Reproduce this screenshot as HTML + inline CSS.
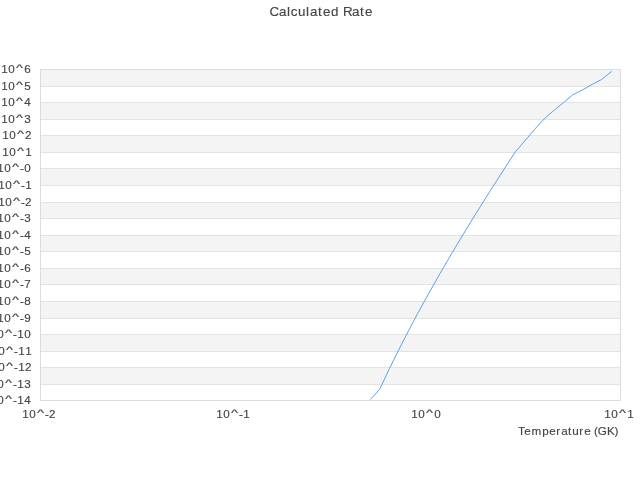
<!DOCTYPE html>
<html><head><meta charset="utf-8"><title>Calculated Rate</title>
<style>
html,body{margin:0;padding:0;background:#fff;}
body{width:640px;height:480px;overflow:hidden;font-family:"Liberation Sans",sans-serif;}
svg{display:block;}
text{font-family:"Liberation Sans",sans-serif;white-space:pre;}
</style></head><body>
<svg width="640" height="480" viewBox="0 0 640 480">
<rect x="0" y="0" width="640" height="480" fill="#ffffff"/>
<rect x="40" y="69" width="580" height="17" fill="#f4f4f4"/>
<rect x="40" y="102" width="580" height="17" fill="#f4f4f4"/>
<rect x="40" y="135" width="580" height="17" fill="#f4f4f4"/>
<rect x="40" y="168" width="580" height="17" fill="#f4f4f4"/>
<rect x="40" y="202" width="580" height="16" fill="#f4f4f4"/>
<rect x="40" y="235" width="580" height="16" fill="#f4f4f4"/>
<rect x="40" y="268" width="580" height="16" fill="#f4f4f4"/>
<rect x="40" y="301" width="580" height="17" fill="#f4f4f4"/>
<rect x="40" y="334" width="580" height="17" fill="#f4f4f4"/>
<rect x="40" y="367" width="580" height="17" fill="#f4f4f4"/>
<rect x="40" y="69" width="581" height="1" fill="#dcdcdc"/>
<rect x="40" y="86" width="581" height="1" fill="#e3e3e3"/>
<rect x="40" y="102" width="581" height="1" fill="#e3e3e3"/>
<rect x="40" y="119" width="581" height="1" fill="#e3e3e3"/>
<rect x="40" y="135" width="581" height="1" fill="#e3e3e3"/>
<rect x="40" y="152" width="581" height="1" fill="#e3e3e3"/>
<rect x="40" y="168" width="581" height="1" fill="#e3e3e3"/>
<rect x="40" y="185" width="581" height="1" fill="#e3e3e3"/>
<rect x="40" y="202" width="581" height="1" fill="#e3e3e3"/>
<rect x="40" y="218" width="581" height="1" fill="#e3e3e3"/>
<rect x="40" y="235" width="581" height="1" fill="#e3e3e3"/>
<rect x="40" y="251" width="581" height="1" fill="#e3e3e3"/>
<rect x="40" y="268" width="581" height="1" fill="#e3e3e3"/>
<rect x="40" y="284" width="581" height="1" fill="#e3e3e3"/>
<rect x="40" y="301" width="581" height="1" fill="#e3e3e3"/>
<rect x="40" y="318" width="581" height="1" fill="#e3e3e3"/>
<rect x="40" y="334" width="581" height="1" fill="#e3e3e3"/>
<rect x="40" y="351" width="581" height="1" fill="#e3e3e3"/>
<rect x="40" y="367" width="581" height="1" fill="#e3e3e3"/>
<rect x="40" y="384" width="581" height="1" fill="#e3e3e3"/>
<rect x="40" y="400" width="581" height="1" fill="#dcdcdc"/>
<rect x="40" y="69" width="1" height="332" fill="#dcdcdc"/>
<rect x="620" y="69" width="1" height="332" fill="#dcdcdc"/>
<polyline fill="none" stroke="#57a3f1" stroke-width="1" points="370.3,399.6 379.8,389.1 389.43,368.59 399.1,349.05 408.77,330.27 418.43,312.13 428.1,294.54 437.77,277.44 447.43,260.76 457.1,244.45 466.77,228.46 476.43,212.77 486.1,197.34 495.77,182.14 505.43,167.16 514.9,152.5 524.8,140.8 534.4,129.6 544.1,119 553.8,110.5 563.4,102.7 572.9,94.7 582.8,89.8 592.4,84.25 601.4,79.6 611.7,71.4"/>
<g style="will-change:transform" stroke="#444" stroke-width="0.15" stroke-linejoin="round">
<text x="269.4 278.98 287.09 290.84 298.01 306.09 309.98 317.92 323.07 331.09 338.77 342.95 351.98 359.92 365.07" y="16" font-size="13.4" fill="#444">Calculated Rate</text>
<text x="1.2 8.26 16.09 24.26" y="73" font-size="11.66" fill="#444">10<tspan font-size="8.53" dy="-2" textLength="7.03" lengthAdjust="spacingAndGlyphs">^</tspan><tspan dy="2">6</tspan></text>
<text x="1.2 8.26 16.09 24.21" y="90" font-size="11.66" fill="#444">10<tspan font-size="8.53" dy="-2" textLength="7.03" lengthAdjust="spacingAndGlyphs">^</tspan><tspan dy="2">5</tspan></text>
<text x="1.2 8.26 16.09 24.25" y="106" font-size="11.66" fill="#444">10<tspan font-size="8.53" dy="-2" textLength="7.03" lengthAdjust="spacingAndGlyphs">^</tspan><tspan dy="2">4</tspan></text>
<text x="1.2 8.26 16.09 24.27" y="123" font-size="11.66" fill="#444">10<tspan font-size="8.53" dy="-2" textLength="7.03" lengthAdjust="spacingAndGlyphs">^</tspan><tspan dy="2">3</tspan></text>
<text x="2.2 9.26 17.09 25.11" y="139" font-size="11.66" fill="#444">10<tspan font-size="8.53" dy="-2" textLength="7.03" lengthAdjust="spacingAndGlyphs">^</tspan><tspan dy="2">2</tspan></text>
<text x="2.2 9.26 17.09 25.2" y="156" font-size="11.66" fill="#444">10<tspan font-size="8.53" dy="-2" textLength="7.03" lengthAdjust="spacingAndGlyphs">^</tspan><tspan dy="2">1</tspan></text>
<text x="-2.8 4.26 12.09 20.04 24.26" y="172" font-size="11.66" fill="#444">10<tspan font-size="8.53" dy="-2" textLength="7.03" lengthAdjust="spacingAndGlyphs">^</tspan><tspan dy="2">-0</tspan></text>
<text x="-1.8 5.26 13.09 21.04 25.2" y="189" font-size="11.66" fill="#444">10<tspan font-size="8.53" dy="-2" textLength="7.03" lengthAdjust="spacingAndGlyphs">^</tspan><tspan dy="2">-1</tspan></text>
<text x="-1.8 5.26 13.09 21.04 25.11" y="206" font-size="11.66" fill="#444">10<tspan font-size="8.53" dy="-2" textLength="7.03" lengthAdjust="spacingAndGlyphs">^</tspan><tspan dy="2">-2</tspan></text>
<text x="-2.8 4.26 12.09 20.04 24.27" y="222" font-size="11.66" fill="#444">10<tspan font-size="8.53" dy="-2" textLength="7.03" lengthAdjust="spacingAndGlyphs">^</tspan><tspan dy="2">-3</tspan></text>
<text x="-2.8 4.26 12.09 20.04 24.25" y="239" font-size="11.66" fill="#444">10<tspan font-size="8.53" dy="-2" textLength="7.03" lengthAdjust="spacingAndGlyphs">^</tspan><tspan dy="2">-4</tspan></text>
<text x="-2.8 4.26 12.09 20.04 24.21" y="255" font-size="11.66" fill="#444">10<tspan font-size="8.53" dy="-2" textLength="7.03" lengthAdjust="spacingAndGlyphs">^</tspan><tspan dy="2">-5</tspan></text>
<text x="-2.8 4.26 12.09 20.04 24.26" y="272" font-size="11.66" fill="#444">10<tspan font-size="8.53" dy="-2" textLength="7.03" lengthAdjust="spacingAndGlyphs">^</tspan><tspan dy="2">-6</tspan></text>
<text x="-2.8 4.26 12.09 20.04 24.23" y="288" font-size="11.66" fill="#444">10<tspan font-size="8.53" dy="-2" textLength="7.03" lengthAdjust="spacingAndGlyphs">^</tspan><tspan dy="2">-7</tspan></text>
<text x="-2.8 4.26 12.09 20.04 24.26" y="305" font-size="11.66" fill="#444">10<tspan font-size="8.53" dy="-2" textLength="7.03" lengthAdjust="spacingAndGlyphs">^</tspan><tspan dy="2">-8</tspan></text>
<text x="-2.8 4.26 12.09 20.04 24.22" y="322" font-size="11.66" fill="#444">10<tspan font-size="8.53" dy="-2" textLength="7.03" lengthAdjust="spacingAndGlyphs">^</tspan><tspan dy="2">-9</tspan></text>
<text x="-9.8 -2.74 5.09 13.04 17.2 24.26" y="338" font-size="11.66" fill="#444">10<tspan font-size="8.53" dy="-2" textLength="7.03" lengthAdjust="spacingAndGlyphs">^</tspan><tspan dy="2">-10</tspan></text>
<text x="-8.8 -1.74 6.09 14.04 18.2 25.2" y="355" font-size="11.66" fill="#444">10<tspan font-size="8.53" dy="-2" textLength="7.03" lengthAdjust="spacingAndGlyphs">^</tspan><tspan dy="2">-11</tspan></text>
<text x="-8.8 -1.74 6.09 14.04 18.2 25.11" y="371" font-size="11.66" fill="#444">10<tspan font-size="8.53" dy="-2" textLength="7.03" lengthAdjust="spacingAndGlyphs">^</tspan><tspan dy="2">-12</tspan></text>
<text x="-9.8 -2.74 5.09 13.04 17.2 24.27" y="388" font-size="11.66" fill="#444">10<tspan font-size="8.53" dy="-2" textLength="7.03" lengthAdjust="spacingAndGlyphs">^</tspan><tspan dy="2">-13</tspan></text>
<text x="-9.8 -2.74 5.09 13.04 17.2 24.25" y="404" font-size="11.66" fill="#444">10<tspan font-size="8.53" dy="-2" textLength="7.03" lengthAdjust="spacingAndGlyphs">^</tspan><tspan dy="2">-14</tspan></text>
<text x="22.2 29.26 37.09 45.04 49.11" y="418" font-size="11.66" fill="#444">10<tspan font-size="8.53" dy="-2" textLength="7.03" lengthAdjust="spacingAndGlyphs">^</tspan><tspan dy="2">-2</tspan></text>
<text x="216.2 223.26 231.09 239.04 243.2" y="418" font-size="11.66" fill="#444">10<tspan font-size="8.53" dy="-2" textLength="7.03" lengthAdjust="spacingAndGlyphs">^</tspan><tspan dy="2">-1</tspan></text>
<text x="411.2 418.26 426.09 434.26" y="418" font-size="11.66" fill="#444">10<tspan font-size="8.53" dy="-2" textLength="7.03" lengthAdjust="spacingAndGlyphs">^</tspan><tspan dy="2">0</tspan></text>
<text x="604.2 611.26 619.09 627.2" y="418" font-size="11.66" fill="#444">10<tspan font-size="8.53" dy="-2" textLength="7.03" lengthAdjust="spacingAndGlyphs">^</tspan><tspan dy="2">1</tspan></text>
<text x="518 524.26 531.53 542.25 549.16 556.23 561.17 568.12 572.18 579.23 584.16 591 593.91 597.73 607.12 614.5" y="435" font-size="11.66" fill="#444">Temperature (GK)</text>
</g>
</svg></body></html>
